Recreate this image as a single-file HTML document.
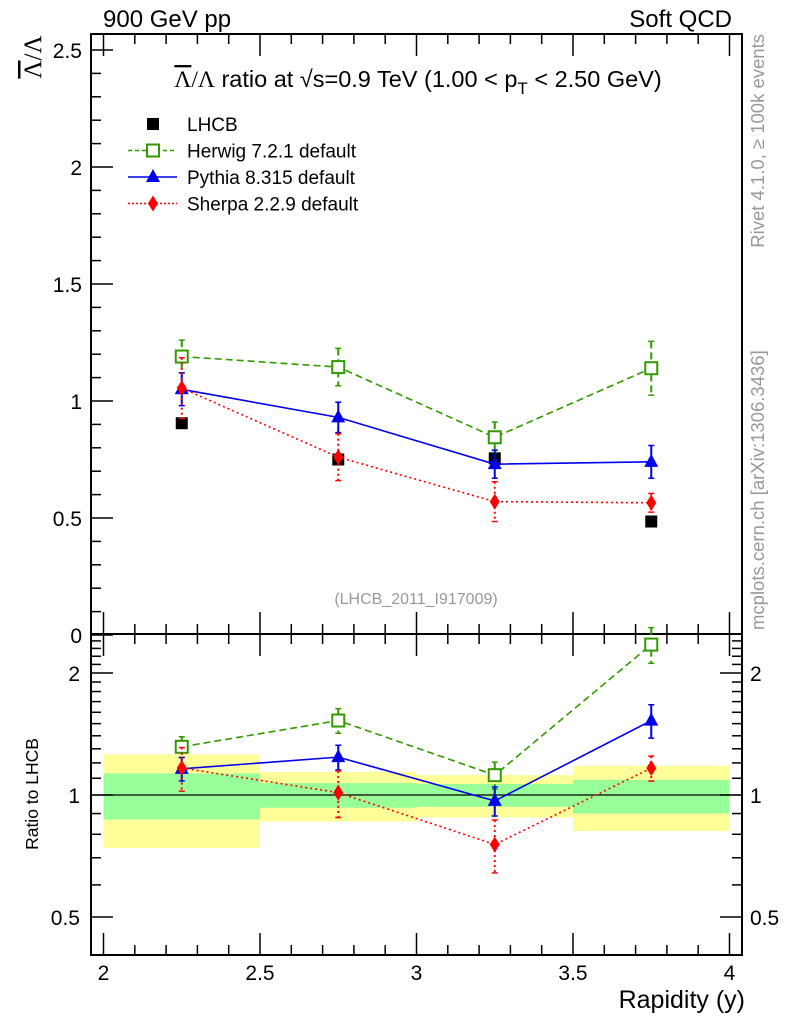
<!DOCTYPE html>
<html><head><meta charset="utf-8">
<style>
body{margin:0;background:#fff;}
svg{display:block;font-family:"Liberation Sans",sans-serif;}
</style></head>
<body>
<svg id="c" width="786" height="1024" viewBox="0 0 786 1024" xmlns="http://www.w3.org/2000/svg"></svg>
<script>
const xCenters=[2.25,2.75,3.25,3.75];
const binEdges=[2,2.5,3,3.5,4];
const lhcb=[0.905,0.75,0.755,0.485];
const lhcbErr=[0.01,0.01,0.01,0.01];
const herwig=[1.19,1.145,0.845,1.14];
const herwigErr=[0.07,0.08,0.065,0.115];
const pythia=[1.05,0.93,0.73,0.74];
const pythiaErr=[0.07,0.065,0.06,0.07];
const sherpa=[1.055,0.76,0.57,0.565];
const sherpaErr=[0.13,0.10,0.085,0.04];
const yellowHi=[1.26,1.14,1.12,1.18];
const yellowLo=[0.74,0.86,0.88,0.815];
const greenHi=[1.13,1.07,1.065,1.09];
const greenLo=[0.87,0.93,0.935,0.90];
const mainTicks=[0,0.5,1,1.5,2,2.5];
const mainTickLabels=["0","0.5","1","1.5","2","2.5"];
const ratioTicks=[0.5,1,2];
const ratioTickLabels=["0.5","1","2"];
const xTicks=[2,2.5,3,3.5,4];
const xTickLabels=["2","2.5","3","3.5","4"];

const L=91,R=742,T=34,MB=634,RB=955;
const X=v=>103.5+(v-2)*313;
const Y=v=>635-234*v;
const YR=v=>795-122*Math.log2(v);
const svg=document.getElementById('c');
const NS="http://www.w3.org/2000/svg";
function el(tag,attrs,parent){const e=document.createElementNS(NS,tag);for(const k in attrs)e.setAttribute(k,attrs[k]);(parent||svg).appendChild(e);return e;}
function txt(s,attrs,parent){const e=el('text',attrs,parent);e.textContent=s;return e;}

for(let i=0;i<4;i++){
  const y=el('rect',{x:X(binEdges[i]),y:YR(yellowHi[i]),width:X(binEdges[i+1])-X(binEdges[i]),height:YR(yellowLo[i])-YR(yellowHi[i]),fill:'#ffff99'});
  
  
  const g=el('rect',{x:X(binEdges[i]),y:YR(greenHi[i]),width:X(binEdges[i+1])-X(binEdges[i]),height:YR(greenLo[i])-YR(greenHi[i]),fill:'#99ff99'});
  
  
}
el('line',{x1:L,x2:R,y1:YR(1),y2:YR(1),stroke:'#000','stroke-width':1.2});

const f1=el('rect',{x:L,y:T,width:R-L,height:MB-T,fill:'none',stroke:'#000','stroke-width':2});

const f2=el('rect',{x:L,y:MB,width:R-L,height:RB-MB,fill:'none',stroke:'#000','stroke-width':2});


for(let v=0;v<=2.55;v+=0.1){
  const major=Math.abs(v*2-Math.round(v*2))<1e-6;
  const y=Y(v);if(y<T)continue;
  el('line',{x1:L,x2:L+(major?22:10),y1:y,y2:y,stroke:'#000','stroke-width':1.5});
}
mainTicks.forEach((v,i)=>{
  const t=txt(mainTickLabels[i],{x:82,y:Y(v)+8,'font-size':21,'text-anchor':'end'});
  
});
[0.4,0.5,0.6,0.7,0.8,0.9,1,1.1,1.2,1.3,1.4,1.5,1.6,1.7,1.8,1.9,2,2.1,2.2,2.3,2.4].forEach(v=>{
  const y=YR(v);if(y>RB||y<MB)return;
  const major=(v===0.5||v===1||v===2);
  el('line',{x1:L,x2:L+(major?22:10),y1:y,y2:y,stroke:'#000','stroke-width':1.5});
  el('line',{x1:R,x2:R-(major?22:10),y1:y,y2:y,stroke:'#000','stroke-width':1.5});
});
ratioTicks.forEach((v,i)=>{
  const t=txt(ratioTickLabels[i],{x:80,y:YR(v)+8,'font-size':21,'text-anchor':'end'});
  
  const t2=txt(ratioTickLabels[i],{x:750,y:YR(v)+8,'font-size':21});
  
});
for(let k=0;k<=20;k++){
  const v=2+k*0.1;const major=k%5===0;const x=X(v);
  [MB,RB].forEach(b=>el('line',{x1:x,x2:x,y1:b,y2:b-(major?22:10),stroke:'#000','stroke-width':1.5}));
  [T,MB].forEach(b=>el('line',{x1:x,x2:x,y1:b,y2:b+(major?22:10),stroke:'#000','stroke-width':1.5}));
}
xTicks.forEach((v,i)=>{
  const t=txt(xTickLabels[i],{x:X(v),y:980,'font-size':21,'text-anchor':'middle'});
  
});

const series=[
 {name:'herwig',vals:herwig,err:herwigErr,color:'#339900',dash:'7,4',marker:'osq'},
 {name:'pythia',vals:pythia,err:pythiaErr,color:'#0000ee',dash:'',marker:'tri'},
 {name:'sherpa',vals:sherpa,err:sherpaErr,color:'#ff0000',dash:'2,3',marker:'dia'}
];
function marker(type,x,y,color,name){
  let m;
  if(type==='osq')m=el('rect',{x:x-6,y:y-6,width:12,height:12,fill:'#fff',stroke:color,'stroke-width':2});
  else if(type==='tri')m=el('polygon',{points:`${x},${y-8} ${x-7},${y+5} ${x+7},${y+5}`,fill:color});
  else if(type==='dia')m=el('polygon',{points:`${x},${y-8} ${x+5},${y} ${x},${y+8} ${x-5},${y}`,fill:color});
  else m=el('rect',{x:x-6,y:y-6,width:12,height:12,fill:'#000'});
  
  
}
function errbar(x,y1,y2,color,dash){
  el('line',{x1:x,x2:x,y1:y1,y2:y2,stroke:color,'stroke-width':2,'stroke-dasharray':dash});
  el('line',{x1:x-3,x2:x+3,y1:y1,y2:y1,stroke:color,'stroke-width':1.5});
  el('line',{x1:x-3,x2:x+3,y1:y2,y2:y2,stroke:color,'stroke-width':1.5});
}
xCenters.forEach((c,i)=>marker('sq',X(c),Y(lhcb[i]),'#000','lhcb-point'));
series.forEach(s=>{
  const pts=xCenters.map((c,i)=>`${X(c)},${Y(s.vals[i])}`).join(' ');
  const pl=el('polyline',{points:pts,fill:'none',stroke:s.color,'stroke-width':1.6,'stroke-dasharray':s.dash});
  
  xCenters.forEach((c,i)=>{
    errbar(X(c),Y(s.vals[i]+s.err[i]),Y(s.vals[i]-s.err[i]),s.color,s.dash);
    marker(s.marker,X(c),Y(s.vals[i]),s.color,s.name+'-point');
  });
  const r=s.vals.map((v,i)=>v/lhcb[i]);
  const re=s.err.map((e,i)=>e/lhcb[i]);
  const pts2=xCenters.map((c,i)=>`${X(c)},${YR(r[i])}`).join(' ');
  const pl2=el('polyline',{points:pts2,fill:'none',stroke:s.color,'stroke-width':1.6,'stroke-dasharray':s.dash});
  
  xCenters.forEach((c,i)=>{
    errbar(X(c),YR(r[i]+re[i]),YR(Math.max(r[i]-re[i],0.41)),s.color,s.dash);
    marker(s.marker,X(c),YR(r[i]),s.color,s.name+'-ratio-point');
  });
});

function T2(s,a,name){const t=txt(s,a);return t;}
T2('900 GeV pp',{x:103,y:27,'font-size':24},'header-left');
T2('Soft QCD',{x:732,y:27,'font-size':24,'text-anchor':'end'},'header-right');
const tt=T2('',{x:418,y:87,'font-size':23.5,'text-anchor':'middle'},'plot-title');
tt.innerHTML='<tspan font-family="Liberation Serif" text-decoration="overline">Λ</tspan><tspan font-family="Liberation Serif">/Λ</tspan> ratio at √s=0.9 TeV (1.00 &lt; p<tspan dy="7" font-size="17">T</tspan><tspan dy="-7"> &lt; 2.50 GeV)</tspan>';
const yl=T2('',{x:0,y:0,'font-size':25,'transform':'translate(41,57) rotate(-90)','text-anchor':'middle','font-family':'Liberation Serif'},'y-axis-title');
yl.innerHTML='<tspan text-decoration="overline">Λ</tspan>/Λ';
T2('Ratio to LHCB',{x:0,y:0,'font-size':17.5,'transform':'translate(38,794) rotate(-90)','text-anchor':'middle'},'ratio-y-axis-title');
T2('Rapidity (y)',{x:745,y:1008,'font-size':25,'text-anchor':'end'},'x-axis-title');
T2('(LHCB_2011_I917009)',{x:416,y:604,'font-size':16,fill:'#999','text-anchor':'middle'},'analysis-label');
T2('Rivet 4.1.0, ≥ 100k events',{x:0,y:0,'font-size':18.5,fill:'#999','transform':'translate(764,34) rotate(-90)','text-anchor':'end'},'rivet-label');
T2('mcplots.cern.ch [arXiv:1306.3436]',{x:0,y:0,'font-size':18.5,fill:'#999','transform':'translate(764,630) rotate(-90)','text-anchor':'start'},'mcplots-label');

const leg=[['LHCB','sq','#000',''],['Herwig 7.2.1 default','osq','#339900','4,3'],['Pythia 8.315 default','tri','#0000ee',''],['Sherpa 2.2.9 default','dia','#ff0000','2,2']];
leg.forEach((l,i)=>{
  const y=124+i*26.5;
  if(i>0){const ln=el('line',{x1:128,x2:177,y1:y,y2:y,stroke:l[2],'stroke-width':1.4,'stroke-dasharray':l[3]});}
  marker(l[1],153,y,l[2],'legend-marker');
  T2(l[0],{x:187,y:y+7,'font-size':19},'legend-entry');
});
</script>
</body></html>
